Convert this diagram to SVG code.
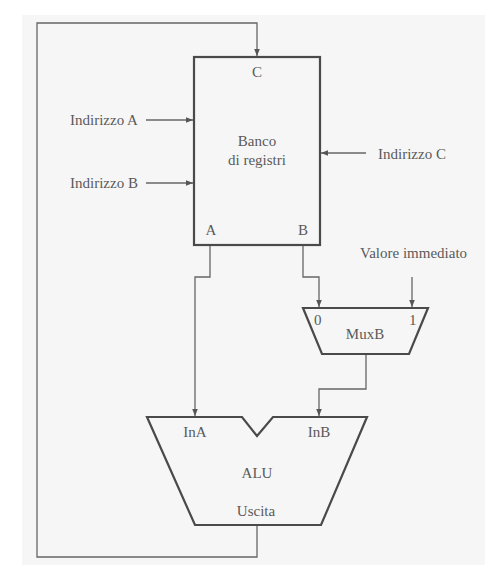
<svg xmlns="http://www.w3.org/2000/svg" width="496" height="571" viewBox="0 0 496 571">
<defs>
<marker id="ah" viewBox="0 0 10 10" refX="10" refY="5" markerWidth="7" markerHeight="7" markerUnits="userSpaceOnUse" orient="auto">
<path d="M0,1 L10,5 L0,9 z" fill="#555"/>
</marker>
<style>
.t{font-family:"Liberation Serif","Times New Roman",serif;font-size:15px;fill:#5a5a5a}
.m{text-anchor:middle}
.w{fill:none;stroke:#666;stroke-width:1.3}
.a{marker-end:url(#ah)}
.b{fill:none;stroke:#4a4a4a;stroke-width:2.2;stroke-linejoin:miter}
</style>
</defs>
<rect x="0" y="0" width="496" height="571" fill="#ffffff"/>
<rect x="22" y="15" width="463" height="550" fill="#f6f6f6"/>
<g id="connectors">
<path class="w a" d="M257,525 V557 H37 V23 H257 V56"/>
<path class="w a" d="M146,120 H193"/>
<path class="w a" d="M146,183 H193"/>
<path class="w a" d="M366,153 H321"/>
<path class="w a" d="M210,246 V277 H195 V416"/>
<path class="w a" d="M303,246 V277 H319 V307"/>
<path class="w a" d="M412,277 V307"/>
<path class="w a" d="M366,355 V389 H319 V416"/>
</g>
<g id="banco">
<rect class="b" x="194" y="57" width="126" height="188" fill="none"/>
<text class="t m" x="257" y="77">C</text>
<text class="t m" x="257" y="146">Banco</text>
<text class="t m" x="257" y="165">di registri</text>
<text class="t m" x="211" y="235">A</text>
<text class="t m" x="303" y="235">B</text>
</g>
<g id="indA"><text class="t" x="70" y="125">Indirizzo A</text></g>
<g id="indB"><text class="t" x="70" y="188">Indirizzo B</text></g>
<g id="indC"><text class="t" x="378" y="159">Indirizzo C</text></g>
<g id="valore"><text class="t" x="360" y="258">Valore immediato</text></g>
<g id="muxb">
<path class="b" d="M303,308 H428 L409,354 H322 Z"/>
<text class="t" x="314" y="325">0</text>
<text class="t" x="409" y="325">1</text>
<text class="t m" x="365" y="339">MuxB</text>
</g>
<g id="alu">
<path class="b" d="M147,417 H242 L257,436 L273,417 H367 L321,525 H195 Z"/>
<text class="t m" x="195" y="437">InA</text>
<text class="t m" x="319" y="437">InB</text>
<text class="t m" x="257" y="478">ALU</text>
<text class="t m" x="256" y="516">Uscita</text>
</g>
</svg>
